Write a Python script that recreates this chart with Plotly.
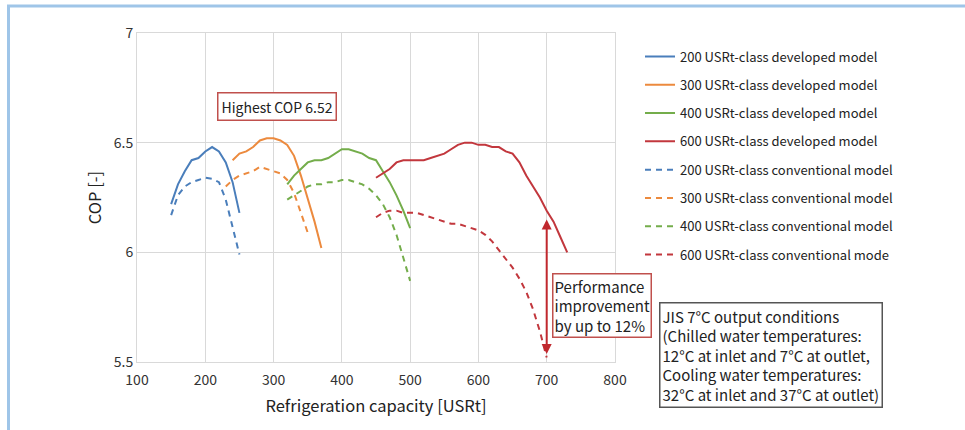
import plotly.graph_objects as go

# ---- data ----
x_200_dev = [150, 160, 170, 180, 190, 200, 210, 220, 230, 240, 250]
y_200_dev = [6.22, 6.31, 6.37, 6.42, 6.43, 6.46, 6.48, 6.46, 6.41, 6.32, 6.18]

x_300_dev = [240, 250, 260, 270, 280, 290, 300, 310, 320, 330, 340, 350, 360, 370]
y_300_dev = [6.42, 6.45, 6.46, 6.48, 6.51, 6.52, 6.52, 6.51, 6.49, 6.44, 6.35, 6.25, 6.14, 6.02]

x_400_dev = [320, 330, 340, 350, 360, 370, 380, 390, 400, 410, 420, 430, 440, 450, 460, 470, 480, 490, 500]
y_400_dev = [6.31, 6.35, 6.38, 6.41, 6.42, 6.42, 6.43, 6.45, 6.47, 6.47, 6.46, 6.45, 6.43, 6.42, 6.37, 6.32, 6.26, 6.19, 6.11]

x_600_dev = [450, 460, 470, 480, 490, 500, 510, 520, 530, 540, 550, 560, 570, 580, 590,
             600, 610, 620, 630, 640, 650, 660, 670, 680, 690, 700, 710, 720, 730]
y_600_dev = [6.34, 6.36, 6.38, 6.41, 6.42, 6.42, 6.42, 6.42, 6.43, 6.44, 6.45, 6.47, 6.49, 6.50, 6.50,
             6.49, 6.49, 6.48, 6.48, 6.46, 6.45, 6.41, 6.35, 6.30, 6.25, 6.19, 6.14, 6.07, 6.00]

x_200_conv = [150, 160, 170, 180, 190, 200, 210, 220, 230, 240, 250]
y_200_conv = [6.17, 6.26, 6.30, 6.32, 6.33, 6.34, 6.335, 6.32, 6.24, 6.12, 5.99]

x_300_conv = [230, 240, 250, 260, 270, 280, 290, 300, 310, 320, 330, 340, 350]
y_300_conv = [6.30, 6.33, 6.35, 6.36, 6.37, 6.39, 6.38, 6.37, 6.36, 6.33, 6.27, 6.18, 6.09]

x_400_conv = [320, 330, 340, 350, 360, 370, 380, 390, 400, 410, 420, 430, 440, 450, 460, 470, 480, 490, 500]
y_400_conv = [6.24, 6.26, 6.28, 6.30, 6.31, 6.31, 6.32, 6.32, 6.33, 6.33, 6.32, 6.31, 6.29, 6.26, 6.22, 6.16, 6.08, 5.98, 5.87]

x_600_conv = [450, 460, 470, 480, 490, 500, 510, 520, 530, 540, 550, 560, 570, 580, 590,
              600, 610, 620, 630, 640, 650, 660, 670, 680, 690, 700]
y_600_conv = [6.16, 6.18, 6.19, 6.19, 6.18, 6.18, 6.18, 6.17, 6.16, 6.15, 6.14, 6.13, 6.13, 6.12, 6.11,
              6.10, 6.08, 6.05, 6.01, 5.97, 5.93, 5.88, 5.82, 5.74, 5.64, 5.52]

names_dev = ["200 USRt-class developed model", "300 USRt-class developed model",
             "400 USRt-class developed model", "600 USRt-class developed model"]
names_conv = ["200 USRt-class conventional model", "300 USRt-class conventional model",
              "400 USRt-class conventional model", "600 USRt-class conventional mode"]

x_ticks = [100, 200, 300, 400, 500, 600, 700, 800]
y_ticks = [5.5, 6, 6.5, 7]
y_tick_labels = ["5.5", "6", "6.5", "7"]

arrow_x = 700
arrow_y_top = 6.15
arrow_y_bottom = 5.53

# ---- style ----
colors = ["#4a7ebb", "#ec8a3e", "#74ad4b", "#c2373d"]
FONT = "Noto Sans CJK JP"
TXT = "#333333"

fig = go.Figure()
dev = [(x_200_dev, y_200_dev), (x_300_dev, y_300_dev), (x_400_dev, y_400_dev), (x_600_dev, y_600_dev)]
conv = [(x_200_conv, y_200_conv), (x_300_conv, y_300_conv), (x_400_conv, y_400_conv), (x_600_conv, y_600_conv)]

for i, (xs, ys) in enumerate(dev):
    fig.add_trace(go.Scatter(x=xs, y=ys, mode="lines", name=names_dev[i], legendgroup=f"d{i}",
                             line=dict(color=colors[i], width=2)))
for i, (xs, ys) in enumerate(conv):
    fig.add_trace(go.Scatter(x=xs, y=ys, mode="lines", name=names_conv[i], legendgroup=f"c{i}",
                             line=dict(color=colors[i], width=2, dash="6px,5px")))

# arrow
fig.add_annotation(x=arrow_x, y=arrow_y_top, ax=arrow_x, ay=arrow_y_bottom, xref="x", yref="y",
                   axref="x", ayref="y", showarrow=True, arrowhead=2, startarrowhead=2,
                   arrowside="end+start", arrowcolor="#c0282e", arrowwidth=2, arrowsize=1, text="")

L, R, T, B = 137, 350, 33, 68
W, H = 965, 430
pw, ph = W - L - R, H - T - B


def px(xp):
    return (xp - L) / pw


def py(yp):
    return (H - B - yp) / ph


fig.add_annotation(x=px(276.5), y=py(106), xref="paper", yref="paper", xanchor="center", yanchor="middle",
                   showarrow=False,
                   text="Highest COP 6.52", font=dict(family=FONT, size=14, color="#222"),
                   bordercolor="#c0504d", borderwidth=1.5, borderpad=3, bgcolor="white")

fig.add_annotation(x=px(552), y=py(273), xref="paper", yref="paper", xanchor="left", yanchor="top",
                   showarrow=False, align="left",
                   text="Performance<br>improvement<br>by up to 12%",
                   font=dict(family=FONT, size=15, color="#222"),
                   bordercolor="#c0504d", borderwidth=1.5, borderpad=1, bgcolor="white")

fig.add_annotation(x=px(659), y=py(302), xref="paper", yref="paper", xanchor="left", yanchor="top",
                   showarrow=False, align="left",
                   text="JIS 7°C output conditions<br>(Chilled water temperatures:<br>12°C at inlet and 7°C at outlet,"
                        "<br>Cooling water temperatures:<br>32°C at inlet and 37°C at outlet)",
                   font=dict(family=FONT, size=15, color="#222"),
                   bordercolor="#555555", borderwidth=1.5, borderpad=2, bgcolor="white")

# light blue frame
fig.add_shape(type="line", xref="paper", yref="paper", x0=px(7), x1=px(965), y0=py(6), y1=py(6),
              line=dict(color="#9fc5e8", width=3))
fig.add_shape(type="line", xref="paper", yref="paper", x0=px(8.5), x1=px(8.5), y0=py(5), y1=py(430),
              line=dict(color="#9fc5e8", width=3))

fig.update_layout(
    width=W, height=H,
    margin=dict(l=L, r=R, t=T, b=B),
    paper_bgcolor="white", plot_bgcolor="white",
    font=dict(family=FONT, size=13, color=TXT),
    showlegend=True,
    legend=dict(x=px(640), y=py(41.5), xanchor="left", yanchor="top", tracegroupgap=8.4,
                font=dict(family=FONT, size=13, color="#222"), bgcolor="rgba(0,0,0,0)"),
    xaxis=dict(range=[100, 800], tickvals=x_ticks, showgrid=True, gridcolor="#d9d9d9", gridwidth=1,
               showline=True, linecolor="#d9d9d9", mirror=True, zeroline=False, ticks="",
               tickfont=dict(size=14, color=TXT), ticklabelstandoff=5,
               title=dict(text="Refrigeration capacity [USRt]", font=dict(size=16.5, color="#222"), standoff=12)),
    yaxis=dict(range=[5.5, 7], tickvals=y_ticks, ticktext=y_tick_labels, showgrid=True, gridcolor="#d9d9d9",
               gridwidth=1, showline=True, linecolor="#d9d9d9", mirror=True, zeroline=False, ticks="",
               tickfont=dict(size=14, color=TXT),
               title=dict(text="COP [-]", font=dict(size=16.5, color="#222"), standoff=7)),
)

fig.write_html("out.html", config={"displayModeBar": False},
               post_script="document.body.style.margin='0px';document.body.style.overflow='hidden';")
